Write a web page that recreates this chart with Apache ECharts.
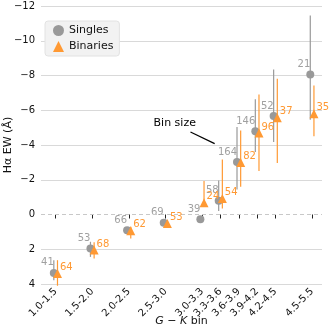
<!DOCTYPE html>
<html>
<head>
<meta charset="utf-8" />
<title>Halpha EW by G-K bin</title>
<script src="https://cdn.jsdelivr.net/npm/echarts@6/dist/echarts.min.js"></script>
<style>
  html, body { margin: 0; padding: 0; background: #fff; }
  #chart { width: 330px; height: 330px; }
</style>
</head>
<body>
<div id="chart"></div>
<script type="text/javascript">
// bins (x position along axis, in half-magnitude steps)
var binLabels = ['1.0-1.5', '1.5-2.0', '2.0-2.5', '2.5-3.0', '3.0-3.3', '3.3-3.6', '3.6-3.9', '3.9-4.2', '4.2-4.5', '4.5-5.5'];
var binPos = [0, 1, 2, 3, 4, 4.5, 5, 5.5, 6, 7];

// singles
var singlesEW = [3.36, 1.96, 0.9, 0.48, 0.27, -0.79, -3.02, -4.79, -5.67, -8.06];
var singlesLo = [2.63, 1.57, 0.75, 0.4, 0.2, -1.95, -5.03, -6.63, -8.35, -11.45];
var singlesHi = [3.78, 2.44, 1.05, 0.56, 0.35, -0.2, -1.44, -3.6, -4.17, -5.46];
var singlesN = [41, 53, 66, 69, 39, 58, 164, 146, 52, 21];

// binaries
var binariesEW = [3.39, 2.05, 0.94, 0.52, -0.67, -0.92, -2.99, -4.69, -5.57, -5.8];
var binariesLo = [2.63, 1.6, 0.7, 0.4, -1.93, -3.16, -4.84, -6.9, -7.82, -7.43];
var binariesHi = [4.1, 2.53, 1.38, 0.6, -0.5, -0.34, -1.59, -2.5, -2.97, -4.5];
var binariesN = [64, 68, 62, 53, 24, 54, 82, 96, 37, 35];

var yTicks = [-12, -10, -8, -6, -4, -2, 0, 2, 4];

var grey = '#999999';
var orange = '#ff9933';
var font = 'DejaVu Sans';

// small shift so the two groups sit side by side
var dxS = -0.05, dxB = 0.05;

var sPts = [], sBars = [], bPts = [], bBars = [];
for (var i = 0; i < binPos.length; i++) {
    sPts.push([binPos[i] + dxS, singlesEW[i], singlesN[i]]);
    sBars.push([binPos[i] + dxS, singlesLo[i], singlesHi[i]]);
    bPts.push([binPos[i] + dxB, binariesEW[i], binariesN[i]]);
    bBars.push([binPos[i] + dxB, binariesLo[i], binariesHi[i]]);
}

function errBar(color) {
    return function (params, api) {
        var p1 = api.coord([api.value(0), api.value(1)]);
        var p2 = api.coord([api.value(0), api.value(2)]);
        return {
            type: 'line',
            shape: { x1: p1[0], y1: p1[1], x2: p2[0], y2: p2[1] },
            style: { stroke: color, lineWidth: 1.2 }
        };
    };
}

function minus(v) {
    return v < 0 ? '\u2212' + (-v) : '' + v;
}

// grid colours, the zero line is drawn dashed separately
var gridColors = yTicks.map(function (v) { return v === 0 ? 'rgba(0,0,0,0)' : '#d9d9d9'; });

var myChart = echarts.init(document.getElementById('chart'));

myChart.setOption({
    animation: false,
    textStyle: { fontFamily: font },
    grid: { left: 41, right: 8, top: 6, bottom: 46, outerBoundsMode: 'none', containLabel: false },
    legend: {
        orient: 'vertical',
        left: 45,
        top: 21,
        padding: [4, 6, 4, 8],
        itemGap: 5,
        itemWidth: 11,
        itemHeight: 11,
        backgroundColor: '#f2f2f2',
        borderColor: '#e2e2e2',
        borderWidth: 1,
        borderRadius: 3,
        textStyle: { fontSize: 11, color: '#111', fontFamily: font },
        data: [
            { name: 'Singles', icon: 'circle', itemStyle: { color: grey } },
            { name: 'Binaries', icon: 'triangle', itemStyle: { color: orange } }
        ]
    },
    xAxis: {
        type: 'value',
        min: -0.4,
        max: 7.27,
        name: '{i|G} \u2212 {i|K} bin',
        nameLocation: 'middle',
        nameGap: 37,
        nameMoveOverlap: false,
        nameTextStyle: {
            fontSize: 11, color: '#111', fontFamily: font, verticalAlign: 'middle',
            rich: { i: { fontStyle: 'italic', fontSize: 11, color: '#111', fontFamily: font } }
        },
        axisLine: { show: false },
        splitLine: { show: false },
        axisTick: { show: true, customValues: binPos, length: 4, lineStyle: { color: '#222' } },
        axisLabel: {
            customValues: binPos,
            rotate: 45,
            fontSize: 10,
            color: '#111',
            margin: 6,
            formatter: function (v) {
                var k = binPos.indexOf(Math.round(v * 100) / 100);
                return k >= 0 ? binLabels[k] : '';
            }
        }
    },
    yAxis: {
        type: 'value',
        inverse: true,
        min: -12,
        max: 4,
        interval: 2,
        name: 'H\u03b1 EW (\u00c5)',
        nameLocation: 'middle',
        nameGap: 27,
        nameMoveOverlap: false,
        nameTextStyle: { fontSize: 11, color: '#111', fontFamily: font },
        axisLine: { show: false },
        axisTick: { show: false },
        axisLabel: { fontSize: 10, color: '#111', margin: 6, hideOverlap: false, formatter: minus },
        splitLine: { show: true, lineStyle: { color: gridColors, width: 1.2 } }
    },
    series: [
        {
            type: 'line',
            data: [],
            markLine: {
                silent: true,
                symbol: 'none',
                label: { show: false },
                lineStyle: { color: '#c8c8c8', type: [4, 3], width: 1 },
                data: [{ yAxis: 0 }]
            }
        },
        {
            type: 'custom',
            renderItem: errBar(grey),
            data: sBars,
            z: 2
        },
        {
            name: 'Singles',
            type: 'scatter',
            symbol: 'circle',
            symbolSize: 8,
            itemStyle: { color: grey, opacity: 1 },
            data: sPts,
            z: 3,
            label: {
                show: true,
                position: [4, -6],
                align: 'right',
                verticalAlign: 'middle',
                fontSize: 10,
                color: '#a0a0a0',
                formatter: function (p) { return p.value[2]; }
            }
        },
        {
            type: 'custom',
            renderItem: errBar(orange),
            data: bBars,
            z: 4
        },
        {
            name: 'Binaries',
            type: 'scatter',
            symbol: 'triangle',
            symbolSize: 9,
            itemStyle: { color: orange, opacity: 1 },
            data: bPts,
            z: 5,
            label: {
                show: true,
                position: [7, -1.5],
                align: 'left',
                verticalAlign: 'middle',
                fontSize: 10,
                color: orange,
                formatter: function (p) { return p.value[2]; }
            }
        }
    ]
});

// "Bin size" note with its pointer, placed in data coordinates
var a = myChart.convertToPixel({ gridIndex: 0 }, [3.68, -4.75]);
var b = myChart.convertToPixel({ gridIndex: 0 }, [4.34, -4.08]);
var t = myChart.convertToPixel({ gridIndex: 0 }, [3.25, -5.26]);
myChart.setOption({
    graphic: [
        {
            type: 'line',
            shape: { x1: a[0], y1: a[1], x2: b[0], y2: b[1] },
            style: { stroke: '#000', lineWidth: 1.2 }
        },
        {
            type: 'text',
            x: t[0],
            y: t[1],
            style: {
                text: 'Bin size',
                fontSize: 11,
                fontFamily: font,
                fill: '#000',
                align: 'center',
                verticalAlign: 'middle'
            }
        }
    ]
});
</script>
</body>
</html>
